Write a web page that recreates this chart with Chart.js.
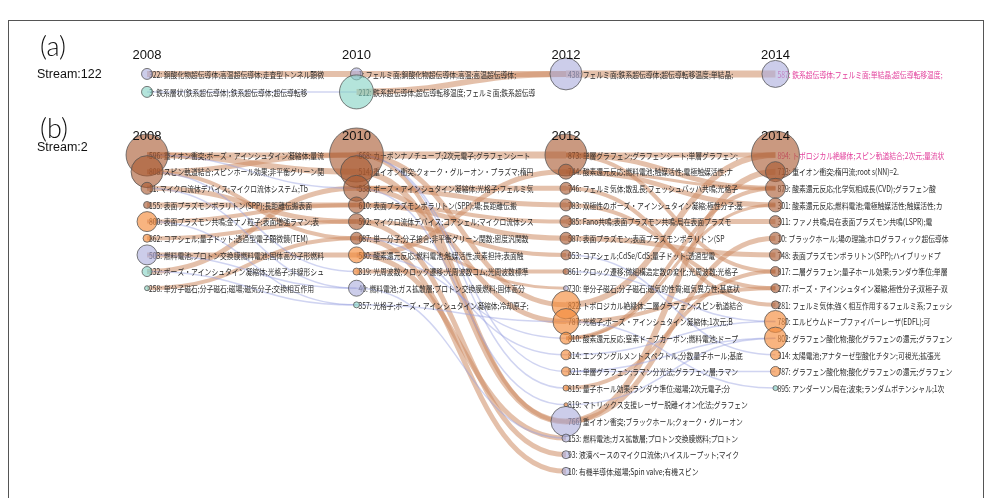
<!DOCTYPE html>
<html>
<head>
<meta charset="utf-8">
<script src="https://cdn.jsdelivr.net/npm/chart.js@4.4.0/dist/chart.umd.min.js"></script>
<style>
  html, body { margin: 0; padding: 0; background: #fff; }
  #wrap { width: 987px; height: 498px; position: relative; }
</style>
</head>
<body>
<div id="wrap"><canvas id="streams"></canvas></div>
<script>
const years = [2008, 2010, 2012, 2014];

// Stream:122  -> [label, size, group]
const a2008 = [
  ['322: 銅酸化物超伝導体;高温超伝導体;走査型トンネル顕微', 5.5, 'lav'],
  ['3: 鉄系層状(鉄系超伝導体);鉄系超伝導体;超伝導転移', 5.5, 'teal']
];
const a2010 = [
  ['1: フェルミ面;銅酸化物超伝導体;高温;高温超伝導体;', 6, 'lav'],
  ['212: 鉄系超伝導体;超伝導転移温度;フェルミ面;鉄系超伝導', 17, 'teal']
];
const a2012 = [
  ['438: フェルミ面;鉄系超伝導体;超伝導転移温度;単結晶;', 16, 'lav']
];
const a2014 = [
  ['587: 鉄系超伝導体;フェルミ面;単結晶;超伝導転移温度;', 13.5, 'lav']
];

// Stream:2
const b2008 = [
  ['596: 重イオン衝突;ボーズ・アインシュタイン凝縮体;量流', 21, 'brown'],
  ['808: スピン軌道結合;スピンホール効果;非平衡グリーン関', 16, 'brown'],
  ['11: マイクロ流体デバイス;マイクロ流体システム;Tb', 6, 'brown'],
  ['155: 表面プラズモンポラリトン(SPP);長距離伝搬表面', 3.5, 'brown'],
  ['800: 表面プラズモン共鳴;金ナノ粒子;表面増強ラマン;表', 10, 'orange'],
  ['862: コアシェル;量子ドット;透過型電子顕微鏡(TEM)', 4, 'orange'],
  ['503: 燃料電池;プロトン交換膜燃料電池;固体高分子形燃料', 10, 'lav'],
  ['132: ボーズ・アインシュタイン凝縮体;光格子;非線形シュ', 5, 'teal'],
  ['258: 単分子磁石;分子磁石;磁場;磁気分子;交換相互作用', 2.5, 'teal']
];
const b2010 = [
  ['668: カーボンナノチューブ;2次元電子;グラフェンシート', 27, 'brown'],
  ['514: 重イオン衝突;クォーク・グルーオン・プラズマ;楕円', 16, 'brown'],
  ['538: ボーズ・アインシュタイン凝縮体;光格子;フェルミ気', 13, 'brown'],
  ['610: 表面プラズモンポラリトン(SPP);場;長距離伝搬', 8, 'brown'],
  ['592: マイクロ流体デバイス;コアシェル;マイクロ流体シス', 8, 'brown'],
  ['687: 単一分子;分子接合;非平衡グリーン関数;密度汎関数', 6, 'brown'],
  ['580: 酸素還元反応;燃料電池;触媒活性;炭素担持;表面触', 8, 'orange'],
  ['319: 光周波数;クロック遷移;光周波数コム;光周波数標準', 3.5, 'orange'],
  ['40: 燃料電池;ガス拡散層;プロトン交換膜燃料;固体高分', 8, 'lav'],
  ['357: 光格子;ボーズ・アインシュタイン凝縮体;冷却原子;', 3, 'teal']
];
const b2012 = [
  ['873: 単層グラフェン;グラフェンシート;単層グラフェン;', 21, 'brown'],
  ['744: 酸素還元反応;燃料電池;触媒活性;電極触媒活性;ナ', 7.5, 'brown'],
  ['746: フェルミ気体;散乱長;フェッシュバッハ共鳴;光格子', 6, 'brown'],
  ['783: 双極性のボーズ・アインシュタイン凝縮;極性分子;基', 6, 'brown'],
  ['385: Fano共鳴;表面プラズモン共鳴;局在表面プラズモ', 6, 'brown'],
  ['587: 表面プラズモン;表面プラズモンポラリトン(SP', 6, 'brown'],
  ['653: コアシェル;CdSe/CdS;量子ドット;透過型電', 5, 'brown'],
  ['861: クロック遷移;微細構造定数の変化;光周波数;光格子', 3, 'brown'],
  ['730: 単分子磁石;分子磁石;磁気的性質;磁気異方性;基底状', 2.5, 'lav'],
  ['822: トポロジカル絶縁体;二層グラフェン;スピン軌道結合', 14, 'orange'],
  ['787: 光格子;ボーズ・アインシュタイン凝縮体;1次元;B', 13, 'orange'],
  ['810: 酸素還元反応;窒素ドープカーボン;燃料電池;ドープ', 6, 'orange'],
  ['814: エンタングルメントスペクトル;分数量子ホール;基底', 5, 'orange'],
  ['821: 単層グラフェン;ラマン分光法;グラフェン層;ラマン', 4.5, 'orange'],
  ['815: 量子ホール効果;ランダウ準位;磁場;2次元電子;分', 3, 'orange'],
  ['819: マトリックス支援レーザー脱離イオン化法;グラフェン', 2, 'orange'],
  ['766: 重イオン衝突;ブラックホール;クォーク・グルーオン', 15, 'lav'],
  ['153: 燃料電池;ガス拡散層;プロトン交換膜燃料;プロトン', 4, 'lav'],
  ['93: 液滴ベースのマイクロ流体;ハイスループット;マイク', 4, 'lav'],
  ['10: 有機半導体;磁場;Spin valve;有機スピン', 4, 'lav']
];
const b2014 = [
  ['894: トポロジカル絶縁体;スピン軌道結合;2次元;量流状', 24, 'brown'],
  ['713: 重イオン衝突;楕円流;root s(NN)=2.', 10, 'brown'],
  ['879: 酸素還元反応;化学気相成長(CVD);グラフェン酸', 10, 'brown'],
  ['301: 酸素還元反応;燃料電池;電極触媒活性;触媒活性;カ', 7, 'brown'],
  ['311: ファノ共鳴;局在表面プラズモン共鳴(LSPR);電', 6, 'brown'],
  ['10: ブラックホール;場の理論;ホログラフィック超伝導体', 6, 'brown'],
  ['748: 表面プラズモンポラリトン(SPP);ハイブリッドプ', 6, 'brown'],
  ['817: 二層グラフェン;量子ホール効果;ランダウ準位;単層', 5, 'brown'],
  ['277: ボーズ・アインシュタイン凝縮;極性分子;双極子-双', 4.5, 'brown'],
  ['281: フェルミ気体;強く相互作用するフェルミ系;フェッシ', 4, 'brown'],
  ['780: エルビウムドープファイバーレーザ(EDFL);可', 11, 'orange'],
  ['802: グラフェン酸化物;酸化グラフェンの還元;グラフェン', 11, 'orange'],
  ['314: 太陽電池;アナターゼ型酸化チタン;可視光;拡張光', 5, 'orange'],
  ['787: グラフェン酸化物;酸化グラフェンの還元;グラフェン', 5, 'orange'],
  ['895: アンダーソン局在;波束;ランダムポテンシャル;1次', 2.5, 'teal']
];

// links: [fromCol, fromRow, toCol, toRow, weight, kind]
const linksA = [
  [0, 0, 1, 0, 6, 'main'], [1, 0, 2, 0, 6, 'main'], [2, 0, 3, 0, 7, 'main'],
  [1, 1, 2, 0, 6, 'main'], [0, 1, 1, 1, 1.5, 'thin']
];
const linksB = [
  // 2008 -> 2010
  [0, 0, 1, 1, 6, 'main'], [0, 0, 1, 0, 5, 'main'], [0, 1, 1, 0, 5, 'main'], [0, 1, 1, 5, 4, 'main'],
  [0, 2, 1, 4, 5, 'main'], [0, 3, 1, 3, 5, 'main'], [0, 4, 1, 3, 4, 'main'], [0, 5, 1, 4, 4, 'main'],
  [0, 6, 1, 6, 5, 'main'], [0, 7, 1, 2, 5, 'main'], [0, 8, 1, 5, 4, 'main'],
  [0, 6, 1, 8, 1.5, 'thin'], [0, 7, 1, 9, 1.5, 'thin'], [0, 0, 1, 2, 1.5, 'thin'],
  [0, 1, 1, 7, 1.5, 'thin'], [0, 2, 1, 8, 1.5, 'thin'], [0, 4, 1, 9, 1.5, 'thin'],
  // 2010 -> 2012
  [1, 0, 2, 0, 7, 'main'], [1, 0, 2, 9, 5, 'main'], [1, 1, 2, 16, 6, 'main'], [1, 0, 2, 16, 4, 'main'],
  [1, 2, 2, 2, 5, 'main'], [1, 2, 2, 3, 5, 'main'], [1, 2, 2, 10, 5, 'main'], [1, 3, 2, 5, 5, 'main'],
  [1, 3, 2, 4, 4, 'main'], [1, 4, 2, 6, 4, 'main'], [1, 4, 2, 18, 5, 'main'], [1, 5, 2, 19, 5, 'main'],
  [1, 5, 2, 8, 3, 'main'], [1, 6, 2, 1, 5, 'main'], [1, 6, 2, 17, 5, 'main'], [1, 7, 2, 7, 4, 'main'],
  [1, 0, 2, 13, 1.5, 'thin'], [1, 0, 2, 14, 1.5, 'thin'], [1, 6, 2, 11, 1.5, 'thin'],
  [1, 8, 2, 17, 1.5, 'thin'], [1, 9, 2, 10, 1.5, 'thin'], [1, 5, 2, 12, 1.5, 'thin'], [1, 2, 2, 15, 1.5, 'thin'],
  // 2012 -> 2014
  [2, 0, 3, 0, 5, 'main'], [2, 9, 3, 0, 6, 'main'], [2, 0, 3, 2, 5, 'main'], [2, 0, 3, 7, 4, 'main'],
  [2, 1, 3, 3, 5, 'main'], [2, 1, 3, 2, 3, 'main'], [2, 2, 3, 9, 4, 'main'], [2, 3, 3, 8, 4, 'main'],
  [2, 4, 3, 4, 5, 'main'], [2, 5, 3, 6, 5, 'main'], [2, 10, 3, 8, 4, 'main'], [2, 11, 3, 2, 4, 'main'],
  [2, 11, 3, 3, 3, 'main'], [2, 14, 3, 7, 4, 'main'], [2, 16, 3, 1, 6, 'main'], [2, 16, 3, 5, 5, 'main'],
  [2, 6, 3, 12, 1.5, 'thin'], [2, 7, 3, 10, 1.5, 'thin'], [2, 10, 3, 14, 1.5, 'thin'], [2, 13, 3, 11, 1.5, 'thin'],
  [2, 13, 3, 13, 1.5, 'thin'], [2, 15, 3, 11, 1.5, 'thin'], [2, 12, 3, 10, 1.5, 'thin']
];

// newest topic of each stream, written in pink
const highlighted = [['a', 3, 0], ['b', 3, 0]];

const fills = {
  brown: 'rgba(170,90,50,0.62)',
  orange: 'rgba(245,140,60,0.65)',
  lav: 'rgba(170,172,220,0.6)',
  teal: 'rgba(130,210,195,0.6)'
};
const linkColors = { main: 'rgba(205,140,100,0.55)', thin: 'rgba(150,160,225,0.45)' };

// panel a sits above panel b, rows measured in panel b row steps
const panelRow = { a: r => -4.87 + r * 1.08, b: r => r };
const cols = { a: [a2008, a2010, a2012, a2014], b: [b2008, b2010, b2012, b2014] };

const points = [];
['a', 'b'].forEach(p => {
  cols[p].forEach((col, c) => {
    col.forEach((n, r) => {
      const hot = highlighted.some(h => h[0] === p && h[1] === c && h[2] === r);
      points.push({ x: years[c], y: panelRow[p](r), r: n[1], label: n[0], group: n[2], hot: hot });
    });
  });
});

const linksPlugin = {
  id: 'linksAndLabels',
  beforeDatasetsDraw(chart) {
    const ctx = chart.ctx, xs = chart.scales.x, ys = chart.scales.y;
    ctx.save();
    const drawLinks = (list, p) => {
      list.forEach(l => {
        const x1 = xs.getPixelForValue(years[l[0]]), y1 = ys.getPixelForValue(panelRow[p](l[1]));
        const x2 = xs.getPixelForValue(years[l[2]]), y2 = ys.getPixelForValue(panelRow[p](l[3]));
        const mx = (x1 + x2) / 2;
        ctx.beginPath();
        ctx.moveTo(x1, y1);
        ctx.bezierCurveTo(mx, y1, mx, y2, x2, y2);
        ctx.lineWidth = l[4];
        ctx.strokeStyle = linkColors[l[5]];
        ctx.stroke();
      });
    };
    drawLinks(linksA, 'a');
    drawLinks(linksB, 'b');

    ctx.font = '8.5px "Noto Sans CJK JP"';
    ctx.textBaseline = 'middle';
    points.forEach(pt => {
      ctx.save();
      ctx.translate(xs.getPixelForValue(pt.x) + 2, ys.getPixelForValue(pt.y) + 0.5);
      ctx.scale(0.8, 1);
      ctx.fillStyle = pt.hot ? '#e2409c' : '#2a2a2a';
      ctx.fillText(pt.label, 0, 0);
      ctx.restore();
    });
    ctx.restore();
  },
  afterDraw(chart) {
    const ctx = chart.ctx, xs = chart.scales.x;
    ctx.save();
    ctx.strokeStyle = '#555';
    ctx.lineWidth = 1;
    ctx.strokeRect(8.5, 20.5, 975, 520);

    ctx.fillStyle = '#111';
    ctx.textAlign = 'center';
    ctx.textBaseline = 'middle';
    ctx.font = '13px "Liberation Sans"';
    years.forEach(y => {
      ctx.fillText(String(y), xs.getPixelForValue(y), 55);
      ctx.fillText(String(y), xs.getPixelForValue(y), 136);
    });
    ctx.textAlign = 'left';
    ctx.font = '300 27px Lato';
    ctx.fillText('(a)', 40, 47);
    ctx.fillText('(b)', 40, 129);
    ctx.font = '12.5px "Liberation Sans"';
    ctx.fillText('Stream:122', 37, 75);
    ctx.fillText('Stream:2', 37, 148);
    ctx.restore();
  }
};

new Chart(document.getElementById('streams'), {
  type: 'bubble',
  data: {
    datasets: [{
      data: points,
      backgroundColor: c => fills[c.raw.group],
      borderColor: 'rgba(80,80,80,0.75)',
      borderWidth: 1,
      clip: false
    }]
  },
  options: {
    responsive: true,
    maintainAspectRatio: false,
    animation: false,
    events: [],
    layout: { padding: 0, autoPadding: false },
    plugins: { legend: { display: false }, tooltip: { enabled: false } },
    scales: {
      x: { type: 'linear', min: 2006.596, max: 2016.02, display: false },
      y: { type: 'linear', reverse: true, min: -9.309, max: 20.6, display: false }
    }
  },
  plugins: [linksPlugin]
});
</script>
</body>
</html>
